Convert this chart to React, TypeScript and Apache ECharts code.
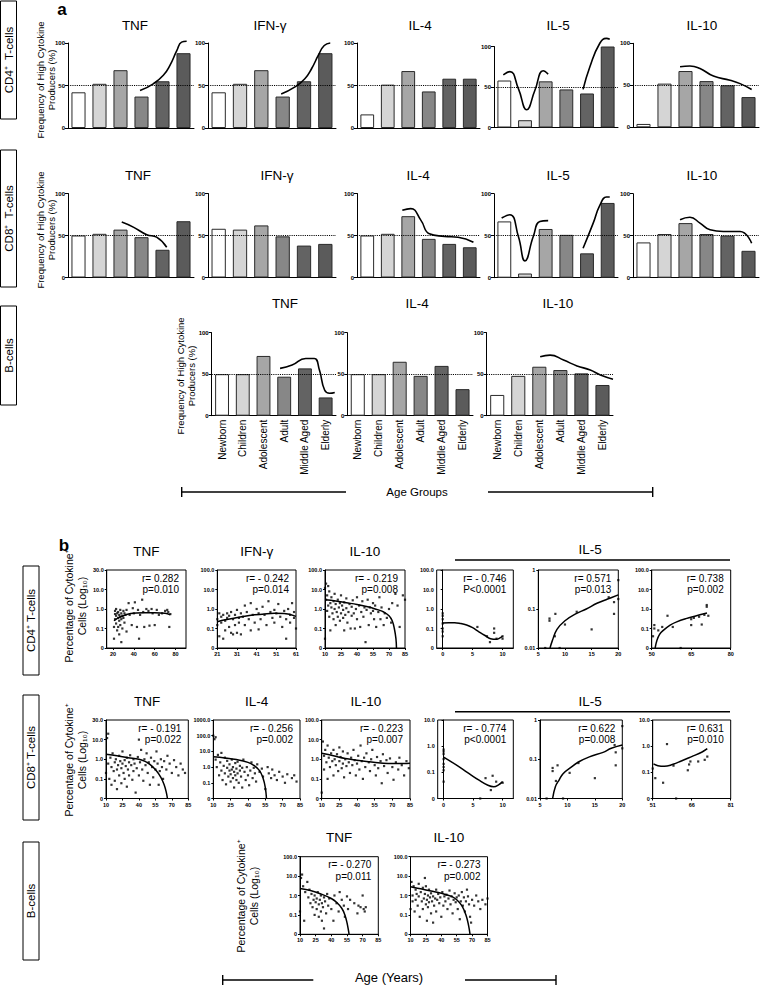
import React, { useEffect, useRef } from 'react';
import * as echarts from 'echarts';

const FONT = '"Liberation Sans", Arial, Helvetica, sans-serif';

// ---------- Panel a: categories and bar values (%) ----------
const AGE_GROUPS = ['Newborn', 'Children', 'Adolescent', 'Adult', 'Middle Aged', 'Elderly'];
const A_Y_TICKS = ['0', '50', '100'];

const CD4_TNF = [42, 52, 68, 37, 55, 88];
const CD4_IFNG = [42, 52, 68, 37, 55, 88];
const CD4_IL4 = [16, 51, 67, 43, 58, 58];
const CD4_IL5 = [58, 9, 57, 47, 42, 100];
const CD4_IL10 = [4, 52, 67, 55, 50, 36];

const CD8_TNF = [50, 52, 57, 48, 33, 67];
const CD8_IFNG = [58, 57, 62, 49, 38, 40];
const CD8_IL4 = [50, 52, 73, 46, 40, 36];
const CD8_IL5 = [67, 5, 58, 51, 29, 89];
const CD8_IL10 = [42, 52, 65, 52, 50, 32];

const B_TNF = [50, 50, 72, 47, 57, 22];
const B_IL4 = [50, 50, 65, 48, 60, 32];
const B_IL10 = [25, 48, 59, 55, 51, 37];

// trend curves drawn over the bars: [position in category units (0..6), %]
const CD4_TNF_CURVE = [[3.43, 44], [4.06, 52], [4.54, 62], [4.86, 74], [5.18, 91], [5.41, 101], [5.65, 102]];
const CD4_IFNG_CURVE = [[3.43, 40], [4.06, 48], [4.54, 58], [4.86, 70], [5.18, 86], [5.45, 97], [5.73, 100]];
const CD4_IL5_CURVE1 = [[0.45, 65], [0.77, 69], [1.18, 48], [1.58, 22], [1.98, 46], [2.38, 70], [2.62, 66]];
const CD4_IL5_CURVE2 = [[4.31, 47], [4.64, 75], [5.12, 104], [5.44, 110], [5.6, 109]];
const CD4_IL10_CURVE = [[2.24, 72], [2.71, 73], [3.19, 70], [3.83, 61], [4.62, 56], [5.1, 52], [5.65, 45]];
const CD8_TNF_CURVE = [[2.56, 66], [3.11, 60], [3.75, 51], [4.22, 48], [4.7, 36]];
const CD8_IL4_CURVE = [[2.21, 80], [2.62, 82], [3.12, 68], [3.53, 52], [4.27, 49], [4.93, 48], [5.68, 42]];
const CD8_IL5_CURVE1 = [[0.37, 71], [0.77, 75], [1.18, 49], [1.5, 20], [1.9, 49], [2.22, 67], [2.62, 68]];
const CD8_IL5_CURVE2 = [[4.31, 35], [4.8, 65], [5.12, 86], [5.44, 96], [5.6, 96]];
const CD8_IL10_CURVE = [[2.24, 69], [2.71, 72], [3.19, 65], [3.67, 57], [4.3, 55], [5.1, 55], [5.65, 41]];
const B_TNF_CURVE = [[3.3, 57], [3.88, 61], [4.54, 69], [4.95, 69], [5.2, 55], [5.45, 31], [5.69, 27], [5.94, 28]];
const B_IL10_CURVE = [[2.54, 71], [3.01, 73], [3.65, 67], [4.29, 60], [4.92, 55], [5.4, 49], [6.0, 44]];

// ---------- Panel b: scatter values [age, % cytokine+] ----------
const Y_LOG4 = ['0', '0.1', '1.0', '10.0', '100.0'];
const Y_LOG4_TNF = ['0', '0.1', '1.0', '10.0', '30.0'];
const Y_LOG5 = ['0', '0.1', '1.0', '10.0', '100.0', '1000.0'];
const Y_LOG3 = ['0', '0.1', '1.0', '10.0'];
const Y_LOG2 = ['0.01', '0.1', '1'];
const X_AGE_A = [20, 40, 60, 80];
const X_AGE_B = [21, 31, 41, 51, 61];
const X_AGE_C = [10, 25, 40, 55, 70, 85];
const X_NEWBORN = [0, 5, 10];
const X_CHILD = [5, 10, 15, 20];
const X_OLD_1 = [50, 65, 80];
const X_OLD_2 = [51, 66, 81];

const CD4_TNF_PTS = [[21,0.12],[21,0.03],[22,0.55],[22,0.3],[22,0.8],[23,0.45],[23,0.18],[23,1.0],[24,0.6],[24,0.08],[25,0.35],[25,0.7],[25,0.12],[26,0.5],[26,0.25],[26,0.05],[27,0.9],[27,0.4],[27,0.15],[28,0.6],[28,0.3],[28,0.02],[29,0.45],[29,0.1],[30,0.8],[30,0.35],[31,0.6],[31,0.2],[32,0.5],[33,0.9],[33,0.07],[35,2.0],[36,0.5],[38,0.15],[39,1.1],[40,0.6],[41,2.2],[43,0.12],[44,0.9],[45,0.03],[46,0.5],[48,3.0],[49,0.7],[50,0.12],[52,1.0],[54,0.8],[55,0.14],[57,1.0],[58,0.6],[60,0.15],[62,0.9],[64,0.5],[67,0.6],[70,0.8],[72,0.9],[73,0.7],[74,0.12],[75,0.55]];
const CD4_TNF_FIT = [[21,0.25],[25,0.35],[30,0.45],[35,0.55],[40,0.6],[50,0.65],[60,0.65],[70,0.6],[75,0.5]];

const CD4_IFNG_PTS = [[21,0.3],[21,0.15],[22,0.6],[22,0.04],[23,0.4],[23,0.2],[24,0.5],[24,0.03],[25,0.25],[25,0.08],[26,0.6],[26,0.35],[27,0.12],[27,0.45],[28,0.06],[28,0.7],[29,0.3],[29,0.05],[30,0.5],[30,0.15],[31,0.9],[31,0.06],[32,0.35],[32,0.2],[33,0.6],[33,0.05],[34,0.4],[35,1.5],[35,0.15],[36,0.7],[37,0.3],[38,0.08],[38,2.0],[39,0.5],[40,0.2],[41,1.0],[42,0.6],[42,0.09],[43,0.3],[44,1.3],[45,0.5],[46,0.15],[47,2.5],[48,0.7],[49,0.35],[50,0.9],[50,0.2],[51,0.6],[52,1.8],[53,0.4],[54,0.12],[55,0.8],[56,0.3],[56,0.03],[57,1.0],[58,0.5],[58,0.2],[59,2.0],[60,0.35],[60,0.7],[61,0.1]];
const CD4_IFNG_FIT = [[21,0.22],[25,0.28],[30,0.35],[35,0.43],[40,0.5],[45,0.56],[50,0.6],[55,0.58],[61,0.42]];

const CD4_IL10_PTS = [[10,0.03],[10,12],[11,3],[11,20],[12,0.8],[12,5],[13,15],[13,1.5],[14,0.4],[14,8],[15,2],[15,0.08],[16,1.2],[16,4],[17,0.6],[18,2.5],[18,0.3],[19,1.0],[19,6],[20,0.15],[20,1.8],[21,0.7],[22,3],[22,0.4],[23,1.2],[24,0.25],[24,2],[25,0.6],[25,5],[26,1.5],[27,0.35],[27,0.9],[28,2.2],[28,0.08],[29,0.5],[30,1.1],[30,3.5],[31,0.2],[32,0.7],[33,1.8],[34,0.1],[35,0.45],[35,1.3],[36,2.8],[37,0.6],[38,0.1],[39,1.0],[40,0.3],[40,4],[42,1.5],[43,0.12],[44,0.7],[45,2.5],[46,0.4],[47,1.2],[48,0.02],[49,0.9],[50,3],[51,0.15],[52,1.2],[53,0.6],[55,2],[55,0.8],[56,0.3],[57,1.5],[58,0.12],[60,0.7],[61,4],[62,0.3],[63,1.2],[65,0.15],[66,0.6],[68,0.35],[70,1.0],[72,0.2],[73,2],[76,6],[78,1.5],[80,0.12],[83,5],[85,3]];
const CD4_IL10_FIT = [[10,3],[20,2.6],[30,2.1],[40,1.7],[50,1.3],[55,1.1],[60,0.9],[65,0.7],[70,0.45],[73,0.25],[75,0.1],[76.5,0.03],[77,0.01]];

const CD4_IL5_NB_PTS = [[0,0.6],[0,0.45],[0,0.3],[0,0.18],[0,0.1],[0,0.07],[0,0.04],[5.8,0.12],[7.4,0.04],[7.9,0.02],[8.6,0.1],[8.6,0.06],[9,0.03],[10,0.04],[10,0.03]];
const CD4_IL5_NB_FIT = [[0,0.19],[1,0.2],[2,0.2],[3,0.18],[4,0.15],[5,0.11],[6,0.07],[7,0.045],[8,0.03],[9,0.028],[9.5,0.032],[10,0.04]];
const CD4_IL5_CH_PTS = [[6.3,0.01],[7.1,0.057],[7.1,0.05],[8.1,0.02],[8.2,0.075],[9,0.01],[10,0.04],[12.2,0.085],[15,0.03],[18.2,0.2],[19.2,0.15],[19.2,0.075],[20,0.18],[20,0.55]];
const CD4_IL5_CH_FIT = [[7.2,0.01],[7.6,0.015],[8.5,0.03],[10,0.05],[12,0.075],[14,0.1],[16,0.14],[18,0.18],[20,0.23]];
const CD4_IL5_OLD_PTS = [[50.5,0.04],[51,0.1],[51,0.15],[52.5,0.08],[54,0.12],[56,0.45],[58,0.12],[61,0.01],[65,0.3],[65,0.15],[66,0.35],[68,0.4],[69,0.16],[70,0.5],[70.9,1.3],[70.9,1.6],[71.5,0.45]];
const CD4_IL5_OLD_FIT = [[51.3,0.01],[52,0.025],[53,0.05],[54.4,0.08],[57,0.15],[59.5,0.22],[63,0.32],[67,0.45],[71,0.63]];

const CD8_TNF_PTS = [[10,0.2],[11,12],[12,20],[12,0.6],[13,0.1],[14,1.2],[15,0.4],[15,0.05],[16,2],[17,0.25],[18,0.7],[18,0.08],[19,1.0],[20,0.3],[20,0.03],[21,0.5],[22,0.15],[22,1.5],[23,0.8],[24,0.06],[24,0.35],[25,0.6],[25,2.5],[26,0.2],[27,0.9],[27,0.1],[28,0.45],[29,1.2],[29,0.04],[30,0.3],[31,0.7],[31,0.15],[32,1.6],[33,0.5],[34,0.09],[35,0.25],[35,1.0],[36,0.6],[37,0.02],[38,0.35],[39,1.3],[40,10],[40,0.15],[41,0.7],[42,3],[43,0.3],[44,0.08],[45,1.0],[46,0.5],[47,2],[48,0.2],[49,0.7],[50,0.05],[51,1.2],[52,0.4],[53,0.12],[54,0.8],[55,0.3],[56,2.5],[57,0.6],[58,0.05],[59,0.25],[60,1.0],[61,0.4],[62,0.1],[63,0.8],[65,0.3],[66,1.5],[68,0.6],[70,0.2],[72,0.9],[74,0.4],[76,0.15],[78,0.6],[80,0.3],[82,0.2]];
const CD8_TNF_FIT = [[10,1.8],[20,1.5],[30,1.2],[40,1.0],[45,0.8],[50,0.55],[55,0.3],[60,0.12],[63,0.05],[65,0.02],[66,0.01]];

const CD8_IL4_PTS = [[10,100],[11,60],[12,80],[12,3],[13,1.0],[14,6],[15,0.3],[16,2],[17,0.6],[17,8],[18,0.15],[19,1.2],[20,0.4],[20,4],[21,0.08],[22,0.9],[22,2.5],[23,0.25],[24,0.6],[24,1.5],[25,0.12],[25,0.35],[26,3],[26,0.7],[27,0.2],[27,1.0],[28,0.05],[28,0.5],[29,1.8],[29,0.3],[30,0.15],[30,0.8],[31,2.2],[31,0.4],[32,0.1],[33,0.6],[33,1.2],[34,0.25],[35,0.05],[35,0.9],[36,3],[37,0.5],[38,0.15],[39,1.0],[40,0.3],[41,0.07],[42,0.6],[43,2],[44,0.2],[45,0.9],[46,0.4],[47,0.12],[48,1.5],[50,0.5],[52,0.8],[53,0.25],[55,0.04],[57,1.0],[58,0.4],[60,0.2],[61,0.7],[63,0.3],[65,0.15],[67,0.5],[70,0.25],[72,0.1],[74,0.35],[78,0.2],[80,0.3],[82,0.12]];
const CD8_IL4_FIT = [[10,4.5],[20,3.8],[30,3],[40,2],[45,1.3],[50,0.6],[53,0.2],[55,0.05],[56,0.01]];

const CD8_IL10_PTS = [[10,0.02],[11,8],[12,1.5],[12,0.3],[13,3],[14,0.7],[15,0.1],[15,5],[16,1.2],[17,0.4],[18,2],[19,0.8],[20,0.15],[20,3],[21,1.0],[22,0.5],[23,1.8],[24,0.25],[25,0.8],[25,4],[26,1.3],[27,0.35],[28,0.6],[28,2.5],[29,0.12],[30,1.0],[31,0.45],[32,2],[33,0.7],[34,0.2],[35,1.2],[36,0.5],[37,3],[38,0.9],[39,0.15],[40,0.6],[41,1.5],[42,0.3],[43,5],[44,0.8],[45,0.1],[46,1.2],[47,0.4],[48,2],[50,0.7],[51,0.25],[52,1.0],[53,3],[55,0.5],[56,0.15],[57,1.3],[58,0.35],[60,0.8],[61,0.06],[62,1.8],[63,0.45],[65,0.9],[66,0.2],[68,1.1],[70,0.4],[71,0.09],[73,0.7],[75,0.3],[76,1.2],[78,0.5],[80,0.15],[82,0.8],[84,0.35]];
const CD8_IL10_FIT = [[10,2],[20,1.5],[30,1.1],[40,0.9],[50,0.75],[60,0.65],[70,0.6],[80,0.6],[85,0.63]];

const CD8_IL5_NB_PTS = [[0,0.74],[0,0.62],[0,0.5],[0,0.32],[0,0.21],[0,0.16],[0,0.12],[0,0.044],[6.2,0.01],[7.1,0.06],[8,0.021],[8.3,0.074],[8.9,0.044],[10,0.04]];
const CD8_IL5_NB_FIT = [[0,0.38],[2,0.2],[4,0.1],[6,0.05],[7.5,0.032],[8.5,0.028],[9.3,0.033],[10,0.044]];
const CD8_IL5_CH_PTS = [[6.2,0.01],[7.3,0.06],[7.3,0.05],[7.9,0.028],[8.2,0.07],[9.2,0.01],[10.4,0.045],[12,0.08],[15,0.033],[18.6,0.23],[18.8,0.15],[18.8,0.07],[20,0.19],[20,0.7]];
const CD8_IL5_CH_FIT = [[7.3,0.01],[7.8,0.02],[8.5,0.03],[9.2,0.043],[10.5,0.06],[12,0.085],[14,0.115],[16.5,0.15],[18,0.19],[20,0.23]];
const CD8_IL5_OLD_PTS = [[51,0.14],[52,0.06],[55,0.04],[56.5,1.2],[59,0.18],[60,0.01],[64.5,0.12],[65,0.2],[65.5,0.26],[68.5,0.26],[71,0.3],[72,0.4]];
const CD8_IL5_OLD_FIT = [[51.3,0.21],[53,0.18],[55.5,0.17],[58,0.19],[62,0.27],[66,0.4],[70,0.6],[72,0.8]];

const BC_TNF_PTS = [[10,0.15],[11,8],[12,12],[13,3],[14,0.05],[15,1.5],[17,5],[18,0.8],[19,2],[20,0.4],[21,1.2],[22,0.25],[23,0.6],[24,0.1],[24,1.0],[25,0.45],[26,0.7],[26,0.2],[27,1.5],[28,0.35],[28,0.08],[29,0.6],[30,0.15],[30,1.0],[31,0.4],[31,0.05],[32,0.25],[33,0.8],[33,0.02],[34,0.5],[35,0.12],[36,1.2],[37,0.3],[38,0.7],[40,0.2],[42,0.05],[43,1.0],[45,0.4],[47,0.15],[48,1.5],[50,0.6],[52,0.3],[53,0.08],[55,0.9],[56,0.2],[58,0.6],[62,0.4],[65,0.12],[66,0.3],[68,0.25],[70,1.0],[71,0.2],[72,0.15],[73,0.25]];
const BC_TNF_FIT = [[10,2.3],[20,1.8],[30,1.2],[40,0.7],[45,0.45],[50,0.22],[53,0.1],[55,0.04],[56.5,0.015],[57,0.01]];

const BC_IL10_PTS = [[10,0.2],[11,5],[12,1.0],[12,0.5],[13,3],[14,0.15],[15,2],[15,0.6],[16,1.2],[17,0.3],[18,0.9],[18,4],[19,0.08],[20,1.5],[21,0.5],[22,2.5],[22,0.2],[23,0.7],[24,1.2],[24,8],[25,0.35],[25,3],[26,0.6],[26,0.05],[27,1.0],[27,0.25],[28,2],[28,0.45],[29,0.8],[30,0.12],[30,1.3],[31,0.5],[32,0.9],[32,0.04],[33,0.3],[34,0.7],[35,2],[35,0.15],[36,0.6],[37,1.2],[38,0.4],[39,0.8],[40,0.08],[41,1.5],[42,0.3],[43,0.9],[44,0.5],[45,1.1],[46,0.2],[47,0.7],[48,1.8],[49,0.35],[50,0.9],[51,0.12],[52,0.6],[53,1.3],[54,0.45],[55,0.8],[56,0.2],[57,1.0],[58,0.06],[59,0.5],[60,1.5],[61,0.3],[62,0.8],[63,0.15],[64,0.5],[65,2],[66,0.9],[67,0.35],[68,0.08],[69,0.04],[70,0.6],[72,0.3],[74,1.0],[76,0.5],[78,0.2],[80,0.6],[83,0.35],[85,0.7]];
const BC_IL10_FIT = [[10,2.8],[20,2.2],[30,1.7],[40,1.3],[50,0.9],[55,0.6],[60,0.3],[64,0.1],[66.5,0.03],[68,0.01]];

// ---------- layout (positions and styles) ----------
const BAR_COLORS = ['#ffffff', '#d5d5d5', '#a6a6a6', '#878787', '#636363', '#5b5b5b'];

type APanel = { title: string; values: number[]; curves: number[][][]; x0: number; x1: number; y0: number; y1: number; tx: number; ty: number; cats?: boolean };
const A_PANELS: APanel[] = [
  { title: 'TNF', values: CD4_TNF, curves: [CD4_TNF_CURVE], x0: 68, x1: 194, y0: 43, y1: 128, tx: 135, ty: 25 },
  { title: 'IFN-γ', values: CD4_IFNG, curves: [CD4_IFNG_CURVE], x0: 208, x1: 336, y0: 43, y1: 128, tx: 270, ty: 25 },
  { title: 'IL-4', values: CD4_IL4, curves: [], x0: 357, x1: 480, y0: 43, y1: 128, tx: 420, ty: 25 },
  { title: 'IL-5', values: CD4_IL5, curves: [CD4_IL5_CURVE1, CD4_IL5_CURVE2], x0: 494, x1: 618, y0: 46.5, y1: 127.5, tx: 558, ty: 25 },
  { title: 'IL-10', values: CD4_IL10, curves: [CD4_IL10_CURVE], x0: 633, x1: 759, y0: 43.3, y1: 127.3, tx: 702, ty: 25 },
  { title: 'TNF', values: CD8_TNF, curves: [CD8_TNF_CURVE], x0: 68, x1: 194, y0: 193.5, y1: 277.5, tx: 138, ty: 175 },
  { title: 'IFN-γ', values: CD8_IFNG, curves: [], x0: 208, x1: 336, y0: 193.5, y1: 277.5, tx: 277, ty: 175 },
  { title: 'IL-4', values: CD8_IL4, curves: [CD8_IL4_CURVE], x0: 357, x1: 480, y0: 193.5, y1: 277.5, tx: 418, ty: 175 },
  { title: 'IL-5', values: CD8_IL5, curves: [CD8_IL5_CURVE1, CD8_IL5_CURVE2], x0: 494, x1: 618, y0: 193.7, y1: 277.7, tx: 558, ty: 175 },
  { title: 'IL-10', values: CD8_IL10, curves: [CD8_IL10_CURVE], x0: 633, x1: 759, y0: 193.7, y1: 277.7, tx: 702, ty: 175 },
  { title: 'TNF', values: B_TNF, curves: [B_TNF_CURVE], x0: 211.7, x1: 336, y0: 332.7, y1: 415.7, tx: 285, ty: 303, cats: true },
  { title: 'IL-4', values: B_IL4, curves: [], x0: 347.3, x1: 473, y0: 332.7, y1: 415.7, tx: 417, ty: 303, cats: true },
  { title: 'IL-10', values: B_IL10, curves: [B_IL10_CURVE], x0: 486.7, x1: 613, y0: 332.7, y1: 415.7, tx: 558, ty: 303, cats: true },
];

type BPanel = { title?: string; pts: number[][]; fit: number[][]; ann: string[]; xMin: number; xMax: number; xTicks: number[]; yMin: number; yMax: number; yLabels: string[]; x0: number; x1: number; y0: number; y1: number };
const B_PANELS: BPanel[] = [
  { title: 'TNF', pts: CD4_TNF_PTS, fit: CD4_TNF_FIT, ann: ['r= 0.282', 'p=0.010'], xMin: 14, xMax: 90, xTicks: X_AGE_A, yMin: 0.01, yMax: 100, yLabels: Y_LOG4_TNF, x0: 106.7, x1: 186, y0: 570, y1: 648 },
  { title: 'IFN-γ', pts: CD4_IFNG_PTS, fit: CD4_IFNG_FIT, ann: ['r= - 0.242', 'p=0.014'], xMin: 21, xMax: 61, xTicks: X_AGE_B, yMin: 0.01, yMax: 100, yLabels: Y_LOG4, x0: 217.3, x1: 296, y0: 570, y1: 648 },
  { title: 'IL-10', pts: CD4_IL10_PTS, fit: CD4_IL10_FIT, ann: ['r= - 0.219', 'p=0.008'], xMin: 10, xMax: 85, xTicks: X_AGE_C, yMin: 0.01, yMax: 100, yLabels: Y_LOG4, x0: 325, x1: 405, y0: 570, y1: 648 },
  { pts: CD4_IL5_NB_PTS, fit: CD4_IL5_NB_FIT, ann: ['r= - 0.746', 'P<0.0001'], xMin: -1, xMax: 11.8, xTicks: X_NEWBORN, yMin: 0.01, yMax: 100, yLabels: Y_LOG4, x0: 436.7, x1: 513.3, y0: 570, y1: 648 },
  { pts: CD4_IL5_CH_PTS, fit: CD4_IL5_CH_FIT, ann: ['r= 0.571', 'p=0.013'], xMin: 5, xMax: 20, xTicks: X_CHILD, yMin: 0.01, yMax: 1, yLabels: Y_LOG2, x0: 538.3, x1: 618.3, y0: 570, y1: 648 },
  { pts: CD4_IL5_OLD_PTS, fit: CD4_IL5_OLD_FIT, ann: ['r= 0.738', 'p=0.002'], xMin: 50, xMax: 80, xTicks: X_OLD_1, yMin: 0.01, yMax: 100, yLabels: Y_LOG4, x0: 651.7, x1: 730.7, y0: 570, y1: 648 },
  { title: 'TNF', pts: CD8_TNF_PTS, fit: CD8_TNF_FIT, ann: ['r= - 0.191', 'p=0.022'], xMin: 10, xMax: 85, xTicks: X_AGE_C, yMin: 0.01, yMax: 100, yLabels: Y_LOG4_TNF, x0: 106, x1: 188.3, y0: 720, y1: 798.5 },
  { title: 'IL-4', pts: CD8_IL4_PTS, fit: CD8_IL4_FIT, ann: ['r= - 0.256', 'p=0.002'], xMin: 10, xMax: 85, xTicks: X_AGE_C, yMin: 0.01, yMax: 1000, yLabels: Y_LOG5, x0: 213.3, x1: 300, y0: 720, y1: 798.5 },
  { title: 'IL-10', pts: CD8_IL10_PTS, fit: CD8_IL10_FIT, ann: ['r= - 0.223', 'p=0.007'], xMin: 10, xMax: 85, xTicks: X_AGE_C, yMin: 0.01, yMax: 100, yLabels: Y_LOG4, x0: 321.7, x1: 410, y0: 720, y1: 798.5 },
  { pts: CD8_IL5_NB_PTS, fit: CD8_IL5_NB_FIT, ann: ['r= - 0.774', 'p<0.0001'], xMin: -1, xMax: 11.8, xTicks: X_NEWBORN, yMin: 0.01, yMax: 10, yLabels: Y_LOG3, x0: 437.7, x1: 513.3, y0: 720, y1: 798.5 },
  { pts: CD8_IL5_CH_PTS, fit: CD8_IL5_CH_FIT, ann: ['r= 0.622', 'p=0.008'], xMin: 5, xMax: 20, xTicks: X_CHILD, yMin: 0.01, yMax: 1, yLabels: Y_LOG2, x0: 540, x1: 622.3, y0: 720, y1: 798.5 },
  { pts: CD8_IL5_OLD_PTS, fit: CD8_IL5_OLD_FIT, ann: ['r= 0.631', 'p=0.010'], xMin: 51, xMax: 81, xTicks: X_OLD_2, yMin: 0.01, yMax: 10, yLabels: Y_LOG3, x0: 652.7, x1: 730.7, y0: 720, y1: 798.5 },
  { title: 'TNF', pts: BC_TNF_PTS, fit: BC_TNF_FIT, ann: ['r= - 0.270', 'p=0.011'], xMin: 10, xMax: 85, xTicks: X_AGE_C, yMin: 0.01, yMax: 100, yLabels: Y_LOG4, x0: 300, x1: 378.3, y0: 856.7, y1: 934.3 },
  { title: 'IL-10', pts: BC_IL10_PTS, fit: BC_IL10_FIT, ann: ['r= - 0.273', 'p=0.002'], xMin: 10, xMax: 85, xTicks: X_AGE_C, yMin: 0.01, yMax: 100, yLabels: Y_LOG4, x0: 410.5, x1: 487.5, y0: 856.7, y1: 934.3 },
];

function text(x: number, y: number, s: string, size: number, o: any = {}) {
  return {
    type: 'text', x, y, rotation: o.rot || 0, silent: true, z: 100,
    style: {
      text: s, fill: '#000', fontSize: size, fontFamily: FONT, fontWeight: o.bold ? 'bold' : 'normal',
      align: o.align || 'center', verticalAlign: 'middle', lineHeight: o.lh || size * 1.15,
    },
  };
}
function line(x1: number, y1: number, x2: number, y2: number, w = 1.2) {
  return { type: 'line', silent: true, z: 100, shape: { x1, y1, x2, y2 }, style: { stroke: '#000', lineWidth: w } };
}
function box(x: number, y: number, w: number, h: number) {
  return { type: 'rect', silent: true, z: 100, shape: { x, y, width: w, height: h }, style: { fill: 'none', stroke: '#000', lineWidth: 1 } };
}

function buildOption() {
  const grid: any[] = [];
  const xAxis: any[] = [];
  const yAxis: any[] = [];
  const series: any[] = [];
  const g: any[] = [];
  const axisLine = { show: true, lineStyle: { color: '#000', width: 1 } };

  A_PANELS.forEach((p) => {
    const gi = grid.length;
    grid.push({ left: p.x0, top: p.y0, width: p.x1 - p.x0, height: p.y1 - p.y0 });
    const xc = xAxis.length;
    xAxis.push({
      type: 'category', gridIndex: gi, data: AGE_GROUPS, axisLine, axisTick: { show: false },
      axisLabel: p.cats
        ? { show: true, rotate: 90, interval: 0, fontSize: 10, color: '#000', fontFamily: FONT, margin: 4 }
        : { show: false },
    });
    const xv = xAxis.length;
    xAxis.push({ type: 'value', gridIndex: gi, min: 0, max: 6, show: false });
    const yi = yAxis.length;
    yAxis.push({
      type: 'value', gridIndex: gi, min: 0, max: 100, interval: 50, axisLine,
      axisTick: { show: true, length: 3, lineStyle: { color: '#000' } },
      axisLabel: { fontSize: 6, color: '#000', fontFamily: FONT, fontWeight: 'bold', margin: 3, formatter: (v: number) => A_Y_TICKS[Math.round(v / 50)] },
      splitLine: { show: false },
    });
    series.push({
      type: 'bar', xAxisIndex: xc, yAxisIndex: yi, barCategoryGap: '33%',
      data: p.values.map((v, i) => ({ value: v, itemStyle: { color: BAR_COLORS[i] } })),
      itemStyle: { borderColor: '#2a2a2a', borderWidth: 1 },
      markLine: {
        silent: true, symbol: ['none', 'none'], label: { show: false },
        lineStyle: { type: 'dotted', color: '#000', width: 1.1 }, data: [{ yAxis: 50 }],
      },
    });
    p.curves.forEach((c) => {
      series.push({
        type: 'line', xAxisIndex: xv, yAxisIndex: yi, data: c, smooth: 0.5, showSymbol: false, clip: false, z: 5,
        lineStyle: { color: '#000', width: 1.6 },
      });
    });
    g.push(text(p.tx, p.ty, p.title, 13.5));
  });

  B_PANELS.forEach((p) => {
    const gi = grid.length;
    grid.push({ left: p.x0, top: p.y0, width: p.x1 - p.x0, height: p.y1 - p.y0, show: true, borderColor: '#000', borderWidth: 1 });
    const xi = xAxis.length;
    xAxis.push({
      type: 'value', gridIndex: gi, min: p.xMin, max: p.xMax, axisLine,
      axisTick: { show: true, length: 2, customValues: p.xTicks, lineStyle: { color: '#000' } },
      axisLabel: { customValues: p.xTicks, fontSize: 5.5, color: '#000', fontFamily: FONT, fontWeight: 'bold', margin: 3 },
      splitLine: { show: false },
    });
    const yi = yAxis.length;
    const e0 = Math.round(Math.log10(p.yMin));
    yAxis.push({
      type: 'log', logBase: 10, gridIndex: gi, min: p.yMin, max: p.yMax, axisLine,
      axisTick: { show: true, length: 2, lineStyle: { color: '#000' } },
      axisLabel: {
        fontSize: 5.5, color: '#000', fontFamily: FONT, fontWeight: 'bold', margin: 3,
        formatter: (v: number) => p.yLabels[Math.round(Math.log10(v)) - e0] ?? '',
      },
      splitLine: { show: false },
    });
    series.push({ type: 'scatter', xAxisIndex: xi, yAxisIndex: yi, data: p.pts, symbol: 'rect', symbolSize: 2.2, itemStyle: { color: '#000' } });
    series.push({ type: 'line', xAxisIndex: xi, yAxisIndex: yi, data: p.fit, smooth: 0.4, showSymbol: false, lineStyle: { color: '#000', width: 1.5 } });
    if (p.title) g.push(text((p.x0 + p.x1) / 2, p.y0 - 19, p.title, 13.5));
    g.push(text(p.x1 - 7, p.y0 + 8, p.ann[0], 10, { align: 'right' }));
    g.push(text(p.x1 - 7, p.y0 + 19.5, p.ann[1], 10, { align: 'right' }));
  });

  // panel letters
  g.push(text(62, 9, 'a', 17, { bold: true }));
  g.push(text(64, 545, 'b', 17, { bold: true }));

  // row label boxes
  const R = Math.PI / 2;
  const rowBoxes: [number, number, number, number, string][] = [
    [0.5, 1, 16, 118, 'CD4⁺  T-cells'],
    [0.5, 150, 16, 137, 'CD8⁺  T-cells'],
    [0.5, 306, 16, 99, 'B-cells'],
    [23, 566, 16, 109, 'CD4⁺ T-cells'],
    [23, 695, 16, 125, 'CD8⁺ T-cells'],
    [23, 842, 16, 118, 'B-cells'],
  ];
  rowBoxes.forEach(([x, y, w, h, s]) => {
    g.push(box(x, y, w, h));
    g.push(text(x + w / 2, y + h / 2, s, 11.5, { rot: R }));
  });

  // axis names
  const aName = 'Frequency of High Cytokine\nProducers (%)';
  g.push(text(46, 80, aName, 9.5, { rot: R, lh: 11 }));
  g.push(text(46, 230, aName, 9.5, { rot: R, lh: 11 }));
  g.push(text(186, 376, aName, 9.5, { rot: R, lh: 11 }));
  const bName = 'Percentage of Cytokine⁺\nCells (Log₁₀)';
  g.push(text(75, 606, bName, 10.5, { rot: R, lh: 13 }));
  g.push(text(75, 760, bName, 10.5, { rot: R, lh: 13 }));
  g.push(text(247, 896, bName, 10.5, { rot: R, lh: 13 }));

  // Age Groups bracket
  g.push(text(417, 492, 'Age Groups', 11.5));
  g.push(line(181.7, 492, 346, 492, 1.4));
  g.push(line(488, 492, 652.7, 492, 1.4));
  g.push(line(181.7, 487, 181.7, 497, 1.4));
  g.push(line(652.7, 487, 652.7, 497, 1.4));

  // IL-5 group headers in b
  g.push(text(590, 549, 'IL-5', 13.5));
  g.push(line(455, 560, 730, 560, 1.4));
  g.push(text(590, 701, 'IL-5', 13.5));
  g.push(line(455, 711.7, 730, 711.7, 1.4));

  // Age (Years) bracket
  g.push(text(389, 977, 'Age (Years)', 13));
  g.push(line(222.7, 980, 313.3, 980, 1.4));
  g.push(line(465, 980, 556, 980, 1.4));
  g.push(line(222.7, 975, 222.7, 985, 1.4));
  g.push(line(556, 975, 556, 985, 1.4));

  return {
    animation: false,
    backgroundColor: '#ffffff',
    textStyle: { fontFamily: FONT },
    grid, xAxis, yAxis, series,
    graphic: { elements: g },
  };
}

export default function App() {
  const ref = useRef<HTMLDivElement>(null);
  useEffect(() => {
    if (!ref.current) return;
    const chart = echarts.init(ref.current, undefined, { renderer: 'svg' });
    chart.setOption(buildOption() as any);
    return () => chart.dispose();
  }, []);
  return <div ref={ref} style={{ position: 'absolute', left: 0, top: 0, width: 761, height: 986, background: '#fff' }} />;
}
